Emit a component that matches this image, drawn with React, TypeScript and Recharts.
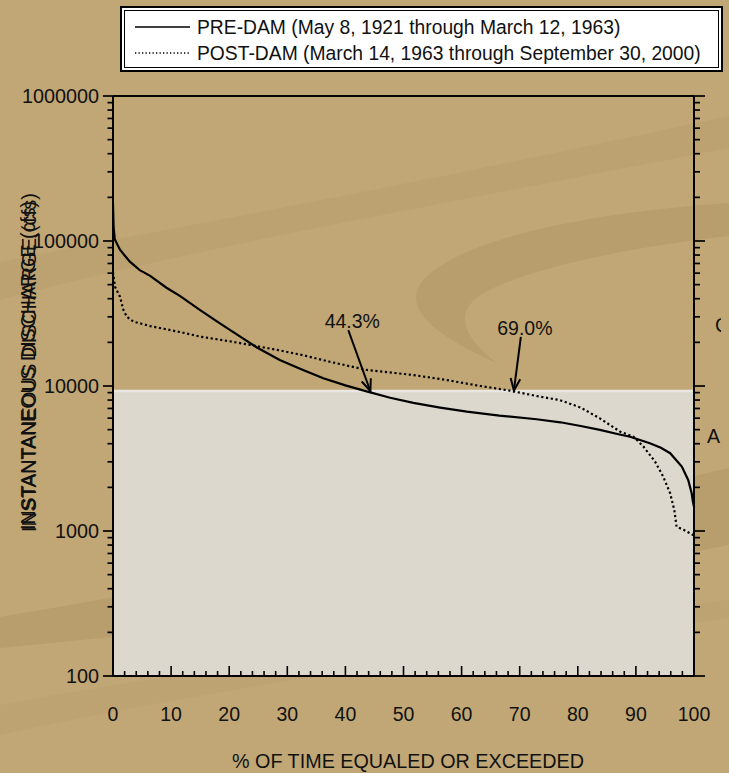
import React from 'react';
import { LineChart, Line, XAxis, YAxis, ReferenceArea, ReferenceLine, Legend } from 'recharts';

const FONT = 'Arial, "Liberation Sans", Helvetica, sans-serif';
const INK = '#111';

// Flow-duration curve, pre-dam record
const preDamPercent = [0, 0.1, 0.3, 1.2, 2.9, 4.6, 6.4, 9.2, 11.5, 15, 18.4, 21.9, 24.7, 28.7, 32.5, 36.2, 40, 43.8, 47.7, 51.7, 56.3, 60.9, 66.5, 72.9, 77, 80.5, 83.8, 87, 89, 92.4, 94.3, 95.9, 97.9, 99, 99.6, 99.8, 100];
const preDamCfs = [180000, 125000, 103000, 87000, 72000, 63000, 57500, 47600, 41800, 33400, 27000, 21900, 18500, 15100, 13000, 11300, 10100, 9140, 8300, 7650, 7100, 6650, 6250, 5900, 5620, 5300, 4980, 4650, 4470, 4030, 3750, 3440, 2780, 2250, 1820, 1600, 1470];

// Flow-duration curve, post-dam record
const postDamPercent = [0, 0.34, 1.2, 1.8, 2.4, 3.5, 6.4, 9.2, 12.1, 15, 19.6, 23.6, 28.7, 33, 37.3, 43.7, 51.7, 57.4, 63.2, 68.3, 73.5, 76.9, 80.5, 83.8, 87.3, 89.6, 91.3, 93.3, 94.7, 95.9, 96.6, 97, 98.2, 99.6, 100];
const postDamCfs = [61000, 48400, 41300, 33400, 30000, 27800, 25900, 24600, 23300, 21900, 20500, 19200, 17600, 16200, 14700, 12900, 11900, 11000, 10000, 9290, 8440, 8000, 7100, 5980, 4840, 4470, 3820, 3010, 2370, 1820, 1400, 1070, 1020, 950, 930];

const seriesNames = [
  'PRE-DAM (May 8, 1921 through March 12, 1963)',
  'POST-DAM (March 14, 1963 through September 30, 2000)',
];

// Axis ticks
const percentMinorStep = 2;
const dischargeDecades = [100, 1000, 10000, 100000, 1000000];
const decadeMultipliers = [1, 2, 3, 4, 5, 6, 7, 8, 9];

// Exceedance annotations
const crossingLabels = ['44.3%', '69.0%'];
const crossingTail = [[40.5, 24300], [70.2, 21800]];
const crossingTip = [[44.3, 9200], [69.0, 9300]];

// Lower shaded panel of the plot area
const panelTopCfs = 9250;

const preDam = preDamPercent.map((p, i) => ({ pct: p, cfs: preDamCfs[i] }));
const postDam = postDamPercent.map((p, i) => ({ pct: p, cfs: postDamCfs[i] }));

const percentTicks: number[] = [];
for (let v = 0; v <= 100; v += percentMinorStep) percentTicks.push(v);

const dischargeTicks: number[] = [];
dischargeDecades.forEach((d, i) => {
  if (i === dischargeDecades.length - 1) {
    dischargeTicks.push(d);
  } else {
    decadeMultipliers.forEach((m) => dischargeTicks.push(d * m));
  }
});

const isDecade = (v: number) => dischargeDecades.includes(v);

const LeftTick = (props: any) => {
  const { x, y, payload } = props;
  const v = payload.value;
  const major = isDecade(v);
  return (
    <g>
      <line x1={x - (major ? 10 : 5.5)} x2={x} y1={y} y2={y} stroke="#000" strokeWidth={1.7} />
      {major && (
        <text x={x - 14} y={y + 7} textAnchor="end" fontSize={19.8} fontFamily={FONT} fill={INK}>
          {String(v)}
        </text>
      )}
    </g>
  );
};

const RightTick = (props: any) => {
  const { x, y, payload } = props;
  const major = isDecade(payload.value);
  return <line x1={x} x2={x + (major ? 11 : 6)} y1={y} y2={y} stroke="#000" strokeWidth={1.7} />;
};

const BottomTick = (props: any) => {
  const { x, y, payload } = props;
  const v = payload.value;
  const major = v % 10 === 0;
  return (
    <g>
      <line x1={x} x2={x} y1={y} y2={y - (major ? 10 : 5)} stroke="#000" strokeWidth={1.6} />
      {major && (
        <text x={x} y={y + 45} textAnchor="middle" fontSize={19.5} fontFamily={FONT} fill={INK}>
          {String(v)}
        </text>
      )}
    </g>
  );
};

const TopTick = (props: any) => {
  const { x, y, payload } = props;
  const major = payload.value % 10 === 0;
  return <line x1={x} x2={x} y1={y} y2={y + (major ? 8 : 5)} stroke="#000" strokeWidth={1.6} />;
};

const makeArrow = (label: string) => (props: any) => {
  const { x1, y1, x2, y2 } = props;
  const ang = Math.atan2(y2 - y1, x2 - x1);
  const len = 13;
  const spread = 0.38;
  const ax = x2 - len * Math.cos(ang - spread);
  const ay = y2 - len * Math.sin(ang - spread);
  const bx = x2 - len * Math.cos(ang + spread);
  const by = y2 - len * Math.sin(ang + spread);
  return (
    <g>
      <line x1={x1} y1={y1} x2={x2} y2={y2} stroke="#000" strokeWidth={2} />
      <polyline points={`${ax},${ay} ${x2},${y2} ${bx},${by}`} fill="none" stroke="#000" strokeWidth={2} />
      <text x={x1 + 4} y={y1 - 2} textAnchor="middle" fontSize={19.5} fontFamily={FONT} fill={INK}>
        {label}
      </text>
    </g>
  );
};

const LegendBox = (props: any) => {
  const items = (props.payload || []) as any[];
  const rows = seriesNames.map((name, i) => {
    const found = items.find((it) => it.value === name);
    return { name: found ? found.value : name, dashed: i === 1 };
  });
  return (
    <svg width={604} height={68} style={{ display: 'block' }}>
      <rect x={1} y={1} width={601} height={64} fill="#fff" stroke="#000" strokeWidth={2} />
      <rect x={4.5} y={4.5} width={594} height={57} fill="none" stroke="#000" strokeWidth={1} />
      {rows.map((r, i) => {
        const base = i === 0 ? 28 : 54;
        return (
          <g key={r.name}>
            <line
              x1={15}
              x2={70}
              y1={base - 7}
              y2={base - 7}
              stroke="#000"
              strokeWidth={r.dashed ? 1.3 : 1.6}
              strokeDasharray={r.dashed ? '1.3 2.2' : undefined}
            />
            <text x={77} y={base} fontSize={19.3} fontFamily={FONT} fill={INK}>
              {r.name}
            </text>
          </g>
        );
      })}
    </svg>
  );
};

const AxisTitleY = () => (
  <g>
    <text
      x={36}
      y={532}
      transform="rotate(-90 36 532)"
      fontSize={19.5}
      fontFamily={FONT}
      fill={INK}
      textLength={339}
      lengthAdjust="spacingAndGlyphs"
    >
      INSTANTANEOUS DISCHARGE (cfs)
    </text>
    <text
      x={35}
      y={530}
      transform="rotate(-90 35 530)"
      fontSize={19.5}
      fontFamily={FONT}
      fill={INK}
      textLength={329}
      lengthAdjust="spacingAndGlyphs"
    >
      INSTANTANEOUS DISCHARGE (cfs)
    </text>
  </g>
);

const AxisTitleX = () => (
  <text
    x={408}
    y={768}
    textAnchor="middle"
    fontSize={19.5}
    fontFamily={FONT}
    fill={INK}
    textLength={352}
    lengthAdjust="spacingAndGlyphs"
  >
    % OF TIME EQUALED OR EXCEEDED
  </text>
);

const Backdrop = () => (
  <svg width={729} height={773} style={{ position: 'absolute', left: 0, top: 0 }}>
    <defs>
      <clipPath id="edgeClip">
        <rect x={0} y={0} width={721} height={773} />
      </clipPath>
    </defs>
    <rect x={0} y={0} width={729} height={773} fill="#C1A775" />
    <path d="M0,262 C150,232 350,198 729,116 L729,148 C400,212 200,247 0,300 Z" fill="#BDA271" />
    <path
      d="M729,203 C600,212 470,235 425,278 C405,300 415,327 497,363 C462,337 455,313 480,295 C530,266 640,246 729,236 Z"
      fill="#B89E6C"
    />
    <path d="M0,617 C250,575 500,520 729,468 L729,545 C500,590 250,625 0,648 Z" fill="#B99E6D" />
    <path d="M0,705 C200,668 420,640 729,600 L729,618 C420,660 200,690 0,735 Z" fill="#BDA272" />
    <g clipPath="url(#edgeClip)">
      <text x={715} y={332} fontSize={19.5} fontFamily={FONT} fill={INK}>C</text>
    </g>
    <text x={707} y={443} fontSize={19.5} fontFamily={FONT} fill={INK}>A</text>
  </svg>
);

export default function App() {
  return (
    <div
      style={{
        position: 'absolute',
        left: 0,
        top: 0,
        width: 729,
        height: 773,
        overflow: 'hidden',
        background: '#C1A775',
      }}
    >
      <Backdrop />
      <div style={{ position: 'absolute', left: 0, top: 0 }}>
        <LineChart width={729} height={773} margin={{ top: 95, right: 0, bottom: 37, left: 0 }}>
          <XAxis
            dataKey="pct"
            type="number"
            domain={[0, 100]}
            allowDataOverflow
            ticks={percentTicks}
            interval={0}
            tickSize={0}
            tickMargin={0}
            tickLine={false}
            tick={<BottomTick />}
            axisLine={{ stroke: '#000', strokeWidth: 2 }}
            height={60}
            label={<AxisTitleX />}
          />
          <XAxis
            xAxisId="top"
            orientation="top"
            type="number"
            domain={[0, 100]}
            allowDataOverflow
            ticks={percentTicks}
            interval={0}
            tickSize={0}
            tickMargin={0}
            tickLine={false}
            tick={<TopTick />}
            axisLine={{ stroke: '#000', strokeWidth: 2 }}
            height={1}
          />
          <YAxis
            type="number"
            scale="log"
            domain={[100, 1000000]}
            allowDataOverflow
            ticks={dischargeTicks}
            interval={0}
            tickSize={0}
            tickMargin={0}
            tickLine={false}
            tick={<LeftTick />}
            axisLine={{ stroke: '#000', strokeWidth: 2 }}
            width={113}
            label={<AxisTitleY />}
          />
          <YAxis
            yAxisId="right"
            orientation="right"
            type="number"
            scale="log"
            domain={[100, 1000000]}
            allowDataOverflow
            ticks={dischargeTicks}
            interval={0}
            tickSize={0}
            tickMargin={0}
            tickLine={false}
            tick={<RightTick />}
            axisLine={{ stroke: '#000', strokeWidth: 2 }}
            width={35}
          />
          <ReferenceArea
            x1={0}
            x2={100}
            y1={100}
            y2={panelTopCfs}
            fill="#DCD8CE"
            fillOpacity={1}
            stroke="none"
            ifOverflow="hidden"
          />
          <ReferenceLine y={panelTopCfs} stroke="#E8E6E1" strokeWidth={2.5} />
          <Line
            data={preDam}
            dataKey="cfs"
            name={seriesNames[0]}
            type="linear"
            stroke="#000"
            strokeWidth={2.2}
            dot={false}
            activeDot={false}
            isAnimationActive={false}
          />
          <Line
            data={postDam}
            dataKey="cfs"
            name={seriesNames[1]}
            type="linear"
            stroke="#000"
            strokeWidth={2.2}
            strokeDasharray="2.2 2.6"
            dot={false}
            activeDot={false}
            isAnimationActive={false}
          />
          {crossingLabels.map((label, i) => (
            <ReferenceLine
              key={label}
              segment={[
                { x: crossingTail[i][0], y: crossingTail[i][1] },
                { x: crossingTip[i][0], y: crossingTip[i][1] },
              ]}
              shape={makeArrow(label)}
              ifOverflow="visible"
            />
          ))}
          <Legend
            layout="horizontal"
            verticalAlign="middle"
            align="center"
            content={<LegendBox />}
            wrapperStyle={{ position: 'absolute', top: 6, left: 120, width: 604, height: 68 }}
          />
        </LineChart>
      </div>
    </div>
  );
}
